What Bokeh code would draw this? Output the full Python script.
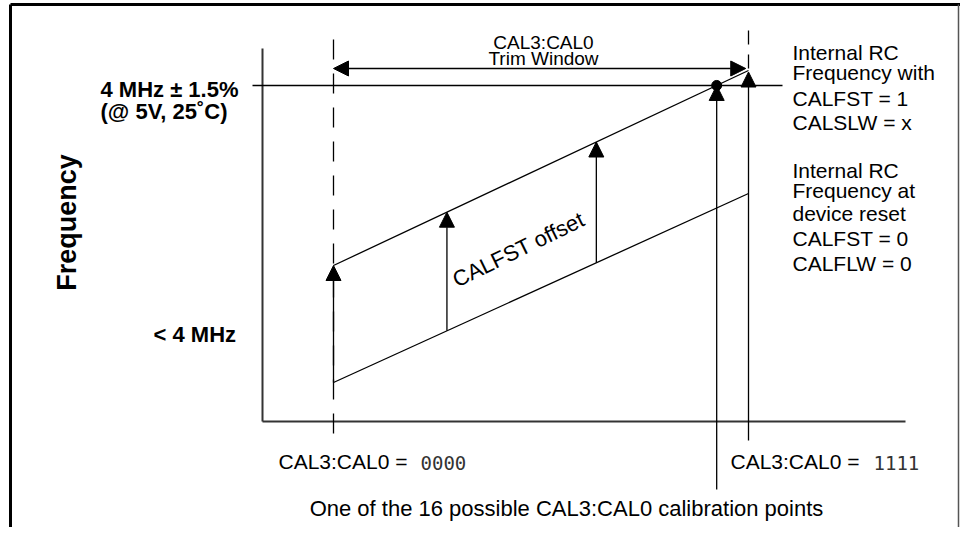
from bokeh.plotting import figure
from bokeh.models import Range1d, Arrow, NormalHead, Label
from bokeh.embed import file_html
from bokeh.resources import INLINE
import math

# ---- data (semantic units: x = CAL3:CAL0 code, y = frequency in MHz, schematic) ----
window_codes = [0, 15]              # CAL3:CAL0 = 0000 ... 1111
reset_freq = [3.01, 3.64]           # internal RC at device reset (CALFST = 0)
fst_freq = [3.40, 4.05]             # internal RC with CALFST = 1
target_freq = 4.0                   # 4 MHz +/- 1.5 %
offset_codes = [0, 4.1, 9.5]        # where the CALFST offset arrows are drawn
cal_point_code = 13.85              # one of the 16 calibration points

right_labels_top = ["Internal RC", "Frequency with", "CALFST = 1", "CALSLW = x"]
right_labels_bot = ["Internal RC", "Frequency at", "device reset", "CALFST = 0", "CALFLW = 0"]

# ---- layout helpers (image pixel -> data units) ----
PX0, PXS = 333.0, 27.667
def X(px):
    return (px - PX0) / PXS
def Y(py):
    return target_freq + (85.0 - py) / 300.0

W, H = 960, 527
p = figure(width=W, height=H, output_backend="svg", toolbar_location=None,
           x_range=Range1d(X(0), X(W)), y_range=Range1d(Y(H), Y(0)),
           min_border=0, outline_line_color=None, background_fill_color="white")
p.axis.visible = False
p.grid.visible = False

def interp(arr, c):
    return arr[0] + (arr[1] - arr[0]) * (c - window_codes[0]) / (window_codes[1] - window_codes[0])

FONT = "Liberation Sans"

# frame border
p.line([X(10), X(10)], [Y(540), Y(4)], line_color="black", line_width=3)
p.line([X(10), X(966)], [Y(4), Y(4)], line_color="black", line_width=3)
p.line([X(958), X(958)], [Y(4), Y(540)], line_color="#555555", line_width=1.5)

# axes
p.line([X(262), X(262)], [Y(48), Y(421)], line_color="#333333", line_width=2)
p.line([X(262), X(905)], [Y(421), Y(421)], line_color="#333333", line_width=2)

# target line 4 MHz
p.line([X(252), X(782)], [target_freq, target_freq], line_color="black", line_width=1.3)

# dashed window lines
p.line([window_codes[0]] * 2, [Y(433), Y(28)], line_color="black", line_width=1.3, line_dash="20 14")
p.line([window_codes[1]] * 2, [Y(68), Y(22)], line_color="black", line_width=1.3, line_dash="14 10")

# frequency lines
p.line(window_codes, reset_freq, line_color="black", line_width=1.3)
p.line(window_codes, fst_freq, line_color="black", line_width=1.3)

def arrow(x0, y0, x1, y1, both=False):
    head = NormalHead(size=15, fill_color="black", line_color="black")
    kw = dict(end=head, x_start=x0, y_start=y0, x_end=x1, y_end=y1,
              line_color="black", line_width=1.3)
    if both:
        kw["start"] = NormalHead(size=15, fill_color="black", line_color="black")
    p.add_layout(Arrow(**kw))

# CALFST offset arrows
for c in offset_codes:
    arrow(c, interp(reset_freq, c), c, interp(fst_freq, c))

# trim window double arrow
arrow(window_codes[0], Y(68), window_codes[1] - 0.1, Y(68), both=True)

# calibration point arrow + dot
cal_f = interp(fst_freq, cal_point_code)
arrow(cal_point_code, Y(489), cal_point_code, cal_f)
p.scatter([cal_point_code], [cal_f], size=10, color="black")
# 1111 arrow
arrow(window_codes[1], Y(440), window_codes[1], fst_freq[1] - 0.005)

def label(px, py, text, size=21, bold=False, align="left", base="middle", angle=0.0, font=FONT, color="black"):
    p.add_layout(Label(x=X(px), y=Y(py), text=text, text_font=font,
                       text_font_size=f"{size}px", text_font_style="bold" if bold else "normal",
                       text_align=align, text_baseline=base, angle=angle, text_color=color))

# top labels
label(543, 42, "CAL3:CAL0", 19, align="center")
label(543, 58, "Trim Window", 19, align="center")

# left labels
label(100, 89, "4 MHz \u00b1 1.5%", 22, bold=True)
label(100, 111, "(@ 5V, 25\u02daC)", 22, bold=True)
label(153, 334, "< 4 MHz", 22, bold=True)
label(66, 222, "Frequency", 27, bold=True, align="center", angle=math.pi / 2)

# offset text
label(518, 249, "CALFST offset", 22, align="center", angle=math.radians(26))

# right labels
for i, t in enumerate(right_labels_top):
    label(792, [52, 72, 98, 122][i], t, 21)
for i, t in enumerate(right_labels_bot):
    label(792, [170, 190, 213, 238, 263][i], t, 21)

# bottom labels
label(278, 461, "CAL3:CAL0 =", 21)
label(420, 462, "0000", 19, font="DejaVu Sans Mono", color="#333333")
label(730, 461, "CAL3:CAL0 =", 21)
label(873, 462, "1111", 19, font="DejaVu Sans Mono", color="#333333")
label(566, 508, "One of the 16 possible CAL3:CAL0 calibration points", 22, align="center")

open("out.html", "w").write(file_html(p, INLINE))
